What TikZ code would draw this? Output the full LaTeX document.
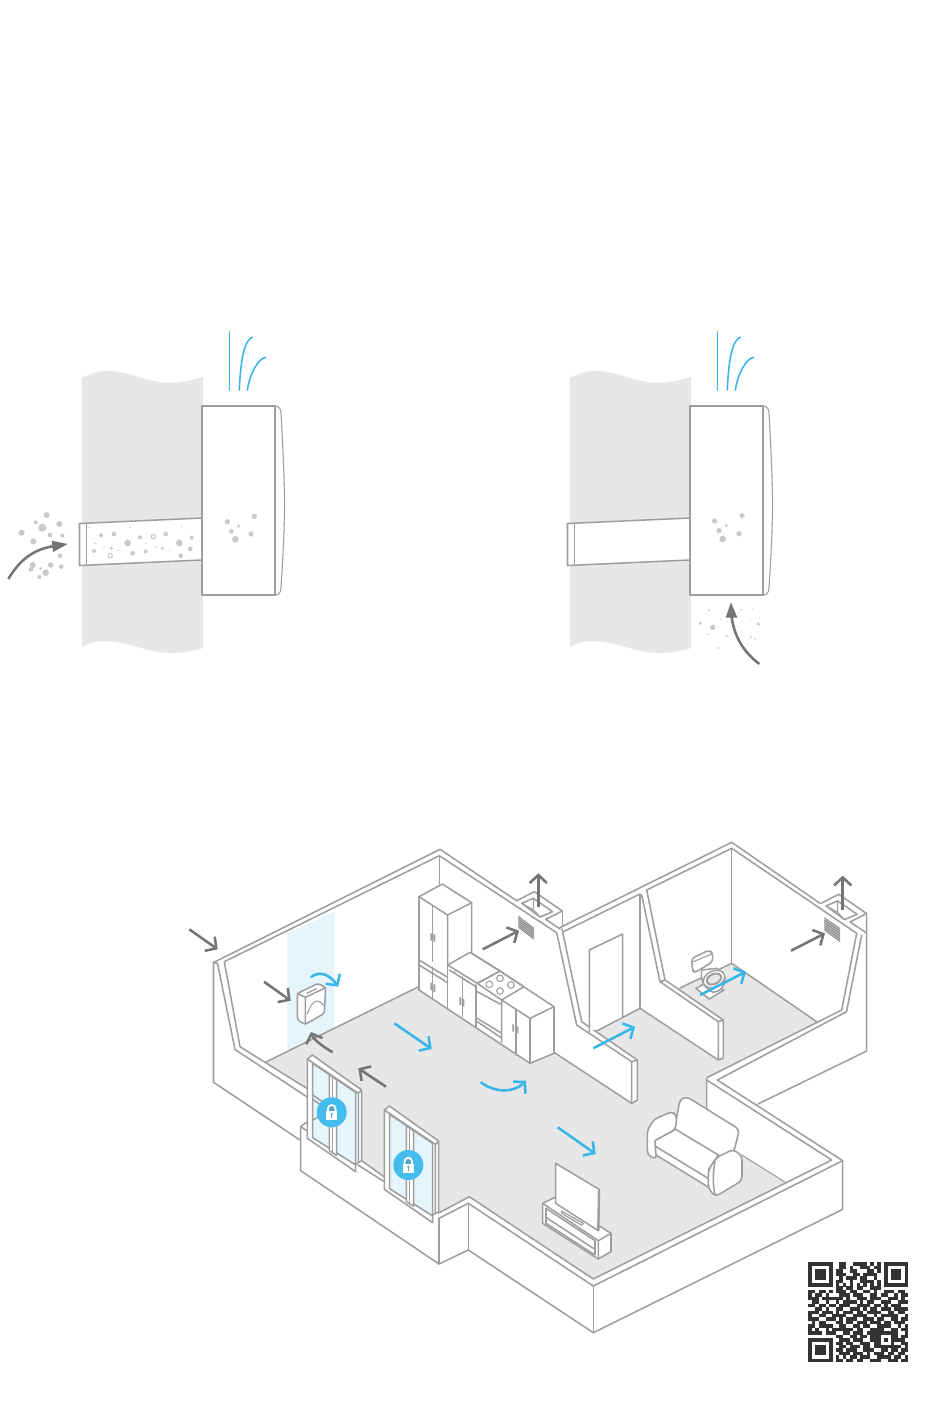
\documentclass[tikz,border=0pt]{standalone}
\usetikzlibrary{arrows.meta}
\definecolor{ln}{HTML}{9E9E9E}
\definecolor{dk}{HTML}{757575}
\definecolor{sky}{HTML}{38B6E9}
\definecolor{dust}{HTML}{C9C9C9}
\definecolor{flr}{HTML}{E7E7E7}
\definecolor{glass}{HTML}{E4F5FC}
\definecolor{lockb}{HTML}{45BCEE}
\definecolor{qrc}{HTML}{333333}
\tikzset{
  zm/.style 2 args={shift={(#1,#2)},x=0.25pt,y=-0.25pt},
  wl/.style={draw=ln,line width=1.15pt,line join=round,line cap=round},
  wlt/.style={draw=ln,line width=0.8pt,line join=round,line cap=round},
  wf/.style={wl,fill=white},
  darrow/.style={draw=dk,line width=1.9pt,-{Straight Barb[length=6pt,width=13pt]}},
  barrow/.style={draw=sky,line width=1.9pt,-{Straight Barb[length=6pt,width=13pt]}},
  wisp/.style={draw=sky,line width=1.15pt,line cap=round},
  speck/.style={fill=dust},
  ring/.style={fill=white,draw=dust,line width=0.8pt},
  qr/.style={fill=qrc}
}
\newcount\qcol
\def\qrow#1{\ifx#1.\let\qnext\relax\else\if#11\fill[qr] ({808.4+3.44*\number\qcol},{1262.4+3.44*\qy}) rectangle +(3.47,3.47);\fi\advance\qcol by 1 \let\qnext\qrow\fi\qnext}
\newcommand{\wallunit}{%
  \fill[flr] (81.5,378) .. controls (90,374) and (98,371) .. (107,371) .. controls (130,371) and (148,383) .. (170,383) .. controls (182,383) and (193,380) .. (203,377)
    -- (203,648) .. controls (193,651) and (182,653) .. (170,653) .. controls (148,653) and (128,641) .. (103,641) .. controls (95,641) and (88,644) .. (81.5,647) -- cycle;
  \path[wf] (79.5,523.5) -- (202,518) -- (202,560) -- (79.5,565.5) -- cycle;
  \draw[wl] (86.5,523.2) -- (86.5,565.2);
  \path[wf] (202,406) rectangle (275,595);
  \draw[wlt] (275,406) .. controls (279,406) and (281,409) .. (281,413) .. controls (283,450) and (285,490) .. (284.5,512) .. controls (284,545) and (282,570) .. (281,588) .. controls (281,592) and (279,595) .. (275,595);
  \draw[wisp] (229.3,390) -- (229.3,331.7);
  \draw[wisp] (239.3,390) .. controls (240.7,356.7) and (245,340) .. (252.3,337.3);
  \draw[wisp] (247.3,390) .. controls (250,373.3) and (258.3,358.3) .. (265.7,357.3);
}
\newcommand{\windowunit}{%
  \path[wf] (52,57)--(67,45)--(215,150)--(215,362)--(197,372)--(197,395)--(52,295)--cycle;
  \draw[wl] (52,57)--(205,160)--(215,150) (205,160)--(205,365);
  \path[fill=glass,draw=ln,line width=1.15pt,line join=round] (68,70)--(197,157)--(197,375)--(68,293)--cycle;
}
\newcommand{\mullion}{%
  \path[wf] (118,104)--(140,119)--(140,346)--(118,332)--cycle;
  \draw[wl] (128,111)--(128,339);
}
\newcommand{\lockicon}[2]{%
  \begin{scope}[shift={(#1,#2)}]
    \fill[lockb] (0,0) circle (15);
    \fill[lockb!70!dk] (0,-3.5) circle (3.2);
    \draw[white,line width=1.3pt] (-3.8,-1) -- (-3.8,-3.5) arc[start angle=180,end angle=360,radius=3.8] -- (3.8,-1);
    \fill[white] (-5.5,-1) rectangle (5.5,7.5);
    \fill[lockb!70!dk] (0,1.8) circle (1.2);
    \draw[lockb!70!dk,line width=0.7pt] (0,1.8) -- (0,5.5);
  \end{scope}
}
\newcommand{\flueunit}{%
  \draw[wl] (516.7,900.7)--(534.3,891.7)--(562.3,911)--(545.7,919.3)--(560,928.9);
  \draw[wl] (521.7,903.3)--(533.3,898.3)--(552.7,911.7)--(540,917)--cycle;
  \draw[wlt] (533.3,898.3)--(533.3,909.7) (521.7,903.3)--(533.3,909.7)--(540,917);
  \draw[wl] (562.3,911)--(562.3,926.5);
}
\begin{document}
\begin{tikzpicture}[x=0.75pt,y=-0.75pt]
\useasboundingbox (0,0) rectangle (950,1425);
\fill[white] (0,0) rectangle (950,1425);
% ---------- upper left panel
\wallunit
\begin{scope}[zm={0}{320}]
  \foreach \a/\b/\r in {140/585/9,107/607/6,178/612/9,127/623/12,65/638/9,150/645/7,187/647/6,100/664/9,180/707/7,98/735/9,122/745/5,152/735/8,184/740/7,93/748/7,137/758/10,118/771/6,
    268/622/2.5,303/646/6,342/642/7,390/621/2.5,420/652/6,497/642/7,545/620/2.5,575/653/6,383/669/10,538/669/10,284/670/3,312/681/2.5,334/685/5,355/691/2.5,438/670/2.5,467/681/2.5,488/685/5,510/691/2.5,282/693/6,398/700/7,437/694/6,571/687/7,542/707/7,
    763/589/8,682/605/8,716/618/5,694/634/7,753/642/8,706/658/10}
    \fill[speck] (\a,\b) circle (\r);
  \foreach \a/\b in {460/650,331/707} \path[ring] (\a,\b) circle (6.5);
  \draw[dk,line width=1.9pt] (25,777) .. controls (65,710) and (110,685) .. (170,677);
  \fill[dk] (203,672) -- (155,662) -- (159,696) -- cycle;
\end{scope}
% ---------- upper right panel
\begin{scope}[shift={(488,0)}]
  \wallunit
\end{scope}
\begin{scope}[zm={550}{320}]
  \foreach \a/\b/\r in {494/603/8,529/616/5,507/632/8,567/641/8,518/657/10,
    478/871/3.5,573/869/2.5,607/867/2,513/898/2,602/897/2,451/910/5,625/912/5,488/922/8,474/942/2.5,530/948/3.5,602/951/3.5,616/957/2.5,506/984/3,628/895/1.5}
    \fill[speck] (\a,\b) circle (\r);
  \fill[speck] (576,578) -- (585,587) -- (576,596) -- (567,587) -- cycle;
  \draw[dk,line width=1.9pt] (628,1032) .. controls (580,995) and (552,950) .. (544,885);
  \fill[dk] (543,847) -- (527,893) -- (562,893) -- cycle;
\end{scope}
% ---------- apartment: wall column and floor
\fill[glass] (287.3,933.3)--(334.3,911.7)--(334.3,1035)--(287.3,1058)--cycle;
\fill[flr] (265,1062.5)--(418,987)--(555,1053)--(640,1008)--(731.7,963.3)--(816.7,1021.7)--(706.7,1077.7)--(706.7,1132)--(786,1182.7)--(593.3,1279)--(469.3,1196.7)--(438.7,1213)--(384,1176.7)--(361.7,1160.7)--(307,1089)--cycle;
% ---------- walls
\draw[wl] (418,987)--(265,1062.5);
\draw[wl] (559,1050.8)--(640,1008.3);
\draw[wl] (680,988)--(731.7,963.3)--(816.7,1021.7);
\draw[wlt] (741.7,1155)--(786,1182.7);
\draw[wl] (213.5,962.5)--(440,849.3)--(516.7,900.7);
\draw[wl] (213.5,962.5)--(213.5,1082.3)--(300,1140);
\draw[wl] (213.5,962.5)--(217.5,963.3)--(235,1049.5)--(306.7,1096.7);
\draw[wl] (224.3,961.7)--(240,1046.7)--(306.7,1088.3);
\draw[wl] (224.3,961.7)--(439.3,855.7)--(556.7,932.7)--(576.7,1025);
\draw[wl] (439.3,855.7)--(439.3,886);
\draw[wl] (562,929)--(581.7,1021.7);
\draw[wl] (560,927.5)--(731.7,842.3)--(820,903.3);
\draw[wl] (563.3,931.7)--(640,894)--(640,1008.3);
\draw[wl] (641.7,895)--(660,981.7);
\draw[wl] (646.7,890)--(665,980);
\draw[wl] (646.7,890)--(731.7,848.3)--(856.7,933.3)--(841.7,1010)--(706.7,1077.7)--(706.7,1132);
\draw[wl] (731.7,848.3)--(731.7,963.3);
\draw[wl] (861.7,935)--(846.5,1011.7)--(717.3,1080)--(842.7,1160.7)--(593.3,1286)--(468.3,1203.3)--(439,1218.3)--(439,1264);
\draw[wl] (864.3,931.5)--(866.7,933.5);
\draw[wl] (866.7,915)--(866.7,1051)--(758,1104);
\draw[wl] (706.7,1080)--(831.7,1160)--(593.3,1279)--(469.3,1196.7)--(438.7,1213);
\draw[wl] (842.7,1160.7)--(842.7,1209.3)--(593.3,1332.7)--(468.3,1250)--(439,1264)--(300.7,1170.7)--(300.7,1126.7)--(305,1123.3)--(330,1110);
\draw[wl] (300.7,1126.7)--(307.3,1131);
\draw[wl] (593.3,1286)--(593.3,1332.7);
\draw[wl] (468.3,1203.3)--(468.3,1250);
\draw[wl] (361.7,1160.7)--(384,1176.7);
\draw[wl] (358,1165)--(384,1181.5);
\flueunit
\begin{scope}[shift={(304.4,2.6)}]\flueunit\end{scope}
% vents
\fill[ln!75!white] (518.3,916)--(534,928.3)--(534,939.3)--(518.3,927.3)--cycle;
\fill[ln!75!white] (824.3,917.7)--(840,928.3)--(840,941.7)--(824.3,930)--cycle;
\foreach \t in {0,0.2,0.4,0.6,0.8,1}{
  \draw[ln!85!black,line width=0.45pt] (518.3,{916+11.3*\t})--(534,{928.3+11*\t});
  \draw[ln!85!black,line width=0.45pt] (824.3,{917.7+12.3*\t})--(840,{928.3+13.4*\t});
}
% partition walls
\fill[white] (576.7,1025)--(581.7,1021.7)--(637.3,1060)--(637.3,1100)--(631.7,1103.3)--(555,1053)--cycle;
\draw[wl] (555,1053)--(631.7,1103.3)--(637.3,1100)--(637.3,1060)--(581.7,1021.7);
\draw[wl] (576.7,1025)--(631.7,1061.7)--(631.7,1103.3) (631.7,1061.7)--(637.3,1060);
\path[wf] (589.3,1031.7)--(589.3,950)--(622.7,934)--(622.7,1016.7);
\path[fill=white] (640,1008.3)--(660,981.7)--(665,980)--(723.3,1020)--(723.3,1058)--(718.3,1060)--cycle;
\draw[wl] (640,1008.3)--(718.3,1060)--(723.3,1058)--(723.3,1020)--(665,980)--(660,981.7)--(718.3,1021.7)--(718.3,1060);
\draw[wl] (718.3,1021.7)--(723.3,1020);
% ---------- kitchen
\begin{scope}[zm={400}{840}]
  \path[wf] (57,170)--(127,132)--(215,188)--(215,340)--(300,393)--(375,443)--(462,500)--(462,640)--(390,670)--(57,450)--cycle;
  \draw[wl] (57,170)--(143,225)--(215,188) (143,225)--(143,375);
  \draw[wl] (98,198)--(98,364) (98,382)--(98,478);
  \draw[wl] (57,360)--(143,412) (57,375)--(143,428);
  \draw[wl] (143,375)--(210,337)--(300,393)--(232,430)--cycle;
  \draw[wl] (143,375)--(143,505);
  \draw[wl] (148,390)--(228,440);
  \draw[wl] (187,410)--(187,530) (228,435)--(228,562);
  \fill[ln] (163,397) circle (3.5) (205,425) circle (3.5);
  \draw[wl] (232,430)--(300,393)--(372,440)--(305,480)--cycle;
  \foreach \a/\b in {300/415,268/433,333/435,300/453} \draw[wlt] (\a,\b) circle (10);
  \draw[wl] (232,455)--(300,492) (232,535)--(302,578) (232,545)--(302,592) (305,480)--(305,607);
  \draw[wl] (305,480)--(390,535)--(462,500) (390,535)--(390,670) (348,510)--(348,645);
  \fill[ln] (91,280) rectangle (97,302) (100,283) rectangle (106,305);
  \fill[ln] (91,428) rectangle (97,450) (100,433) rectangle (106,456);
  \fill[ln] (178,472) rectangle (184,495) (187,477) rectangle (193,500);
  \fill[ln] (337,553) rectangle (342,575) (350,560) rectangle (355,580);
\end{scope}
% ---------- toilet
\begin{scope}[zm={560}{835}]
  \path[wf] (408,460)--(430,448)--(492,465)--(448,492)--cycle;
  \path[wf] (425,405) .. controls (420,430) and (430,460) .. (460,472) .. controls (480,470) and (495,455) .. (495,430) -- (470,400) -- cycle;
  \draw[draw=ln,line width=1.1pt,fill=white,rotate around={25:(462,432)}] (462,432) ellipse (34 and 24);
  \draw[draw=ln,line width=1.5pt,fill=flr,rotate around={25:(462,432)}] (462,432) ellipse (23 and 15);
  \path[wf,rounded corners=2.5pt] (395,370)--(448,345)--(458,355)--(458,380)--(405,413)--(397,405)--cycle;
  \draw[wlt] (396,380)--(400,380)--(458,356);
\end{scope}
% ---------- wall device
\begin{scope}[zm={180}{840}]
  \path[wf,rounded corners=2pt] (352,460)--(415,430)--(437,443)--(433,520)--(376,553)--(352,540)--cycle;
  \draw[wl] (352,460)--(376,472)--(437,443) (376,472)--(376,553);
  \draw[wlt] (382,522) .. controls (395,485) and (410,470) .. (432,497);
  \draw[ln,line width=1pt] (380,460)--(410,446);
\end{scope}
% ---------- sofa and television
\begin{scope}[zm={530}{1080}]
  \path[wf,rounded corners=3pt] (433,150)--(450,58)--(470,50)--(628,148)--(612,215)--(540,260)--cycle;
  \path[wf,rounded corners=3pt] (352,150)--(372,118)--(425,95)--(440,105)--(437,148)--(375,182)--(380,238)--(352,225)--cycle;
  \path[wf,line join=round] (375,182)--(437,148)--(565,225)--(536,268)--(536,322)--(378,225)--cycle;
  \draw[wl] (378,200)--(536,296);
  \path[wf,rounded corners=3pt] (535,270)--(560,232)--(610,208)--(636,228)--(636,302)--(556,350)--(535,325)--cycle;
  \draw[wl] (555,244) .. controls (548,280) and (548,320) .. (556,346);
  % TV
  \path[wf] (38,370)--(75,352)--(243,460)--(243,515)--(205,537)--(38,430)--cycle;
  \draw[wl] (38,370)--(205,482)--(243,460) (205,482)--(205,537);
  \draw[wl] (48,385)--(195,482)--(195,525)--(48,430)--cycle;
  \draw[wl] (48,412)--(190,505);
  \draw[wlt,fill=flr] (95,393)--(160,430)--(155,436)--(95,400)--cycle;
  \path[wf] (77,250)--(207,328)--(205,452)--(77,370)--cycle;
  \draw[ln,line width=1.8pt] (207,328)--(205,452);
\end{scope}
% ---------- windows
\begin{scope}[zm={290}{1040}]
  \windowunit
  \draw[wl] (68,165)--(118,198) (68,178)--(118,212) (68,240)--(118,212);
  \mullion
\end{scope}
\begin{scope}[zm={367}{1091}]
  \windowunit
  \mullion
\end{scope}
\lockicon{331.7}{1112.3}
\lockicon{408.3}{1165}
% ---------- arrows
\draw[darrow] (189.3,929.3) -- (217.7,949.3);
\draw[darrow] (264,981.7) -- (290.7,1000.7);
\draw[darrow] (332.7,1052.3) .. controls (322,1046) and (314,1040) .. (311,1032);
\draw[darrow] (386,1086.7) -- (358.3,1068.3);
\draw[darrow] (482.7,949.3) -- (519,930.7);
\draw[darrow] (538.3,906.7) -- (538.3,873.3);
\draw[darrow] (791,950.7) -- (825,933.3);
\draw[darrow] (842.7,910) -- (842.7,875.7);
\draw[barrow] (310.7,977.3) .. controls (320,970) and (330,975) .. (338.3,986.7);
\draw[barrow] (394.3,1023.3) -- (431.7,1049);
\draw[barrow] (480.7,1082.3) .. controls (497,1094) and (515,1092) .. (526,1080.7);
\draw[barrow] (593.3,1048.3) -- (635,1026.7);
\draw[barrow] (700,995) -- (746,971.7);
\draw[barrow] (557.7,1127.3) -- (595.7,1154);
% ---------- QR code
\foreach \rowstr [count=\qy from 0] in {
11111110 0110011110101 01111111,
10000010 0110100111011 01000001,
10111010 1100110001101 01011101,
10111010 1110011011110 01011101,
10111010 0101110110010 01011101,
10000010 1100100111101 01000001,
11111110 1010101010101 01111111,
00000000 1101101100111 00000000,
11011010 1110110011010 01110110,
10110100 0111011100110 11001011,
11101111 1101001110111 00111010,
01100100 1011110101100 11100111,
11011011 0111001111011 01011100,
00110100 1100111010110 11101111,
11101110 1011101101111 00110110,
10011001 1110011110010 11111001,
11100111 0101110011101 10011011,
01011000 1101101110111 01101110,
11011110 0110011011001 11100101,
10100101 1111101100111 10011011,
11110111 0011011101111 11111001,
00000000 1100110110111 00011011,
11111110 0111011100111 01011110,
10000010 1101100111011 00010011,
10111010 0110111011011 11111101,
10111010 1101110011100 11011011,
10111010 0111011101011 10110110,
10000010 1010110111001 11101101,
11111110 1101101100111 00111011
}{\qcol=0 \expandafter\qrow\rowstr.}
\end{tikzpicture}
\end{document}
